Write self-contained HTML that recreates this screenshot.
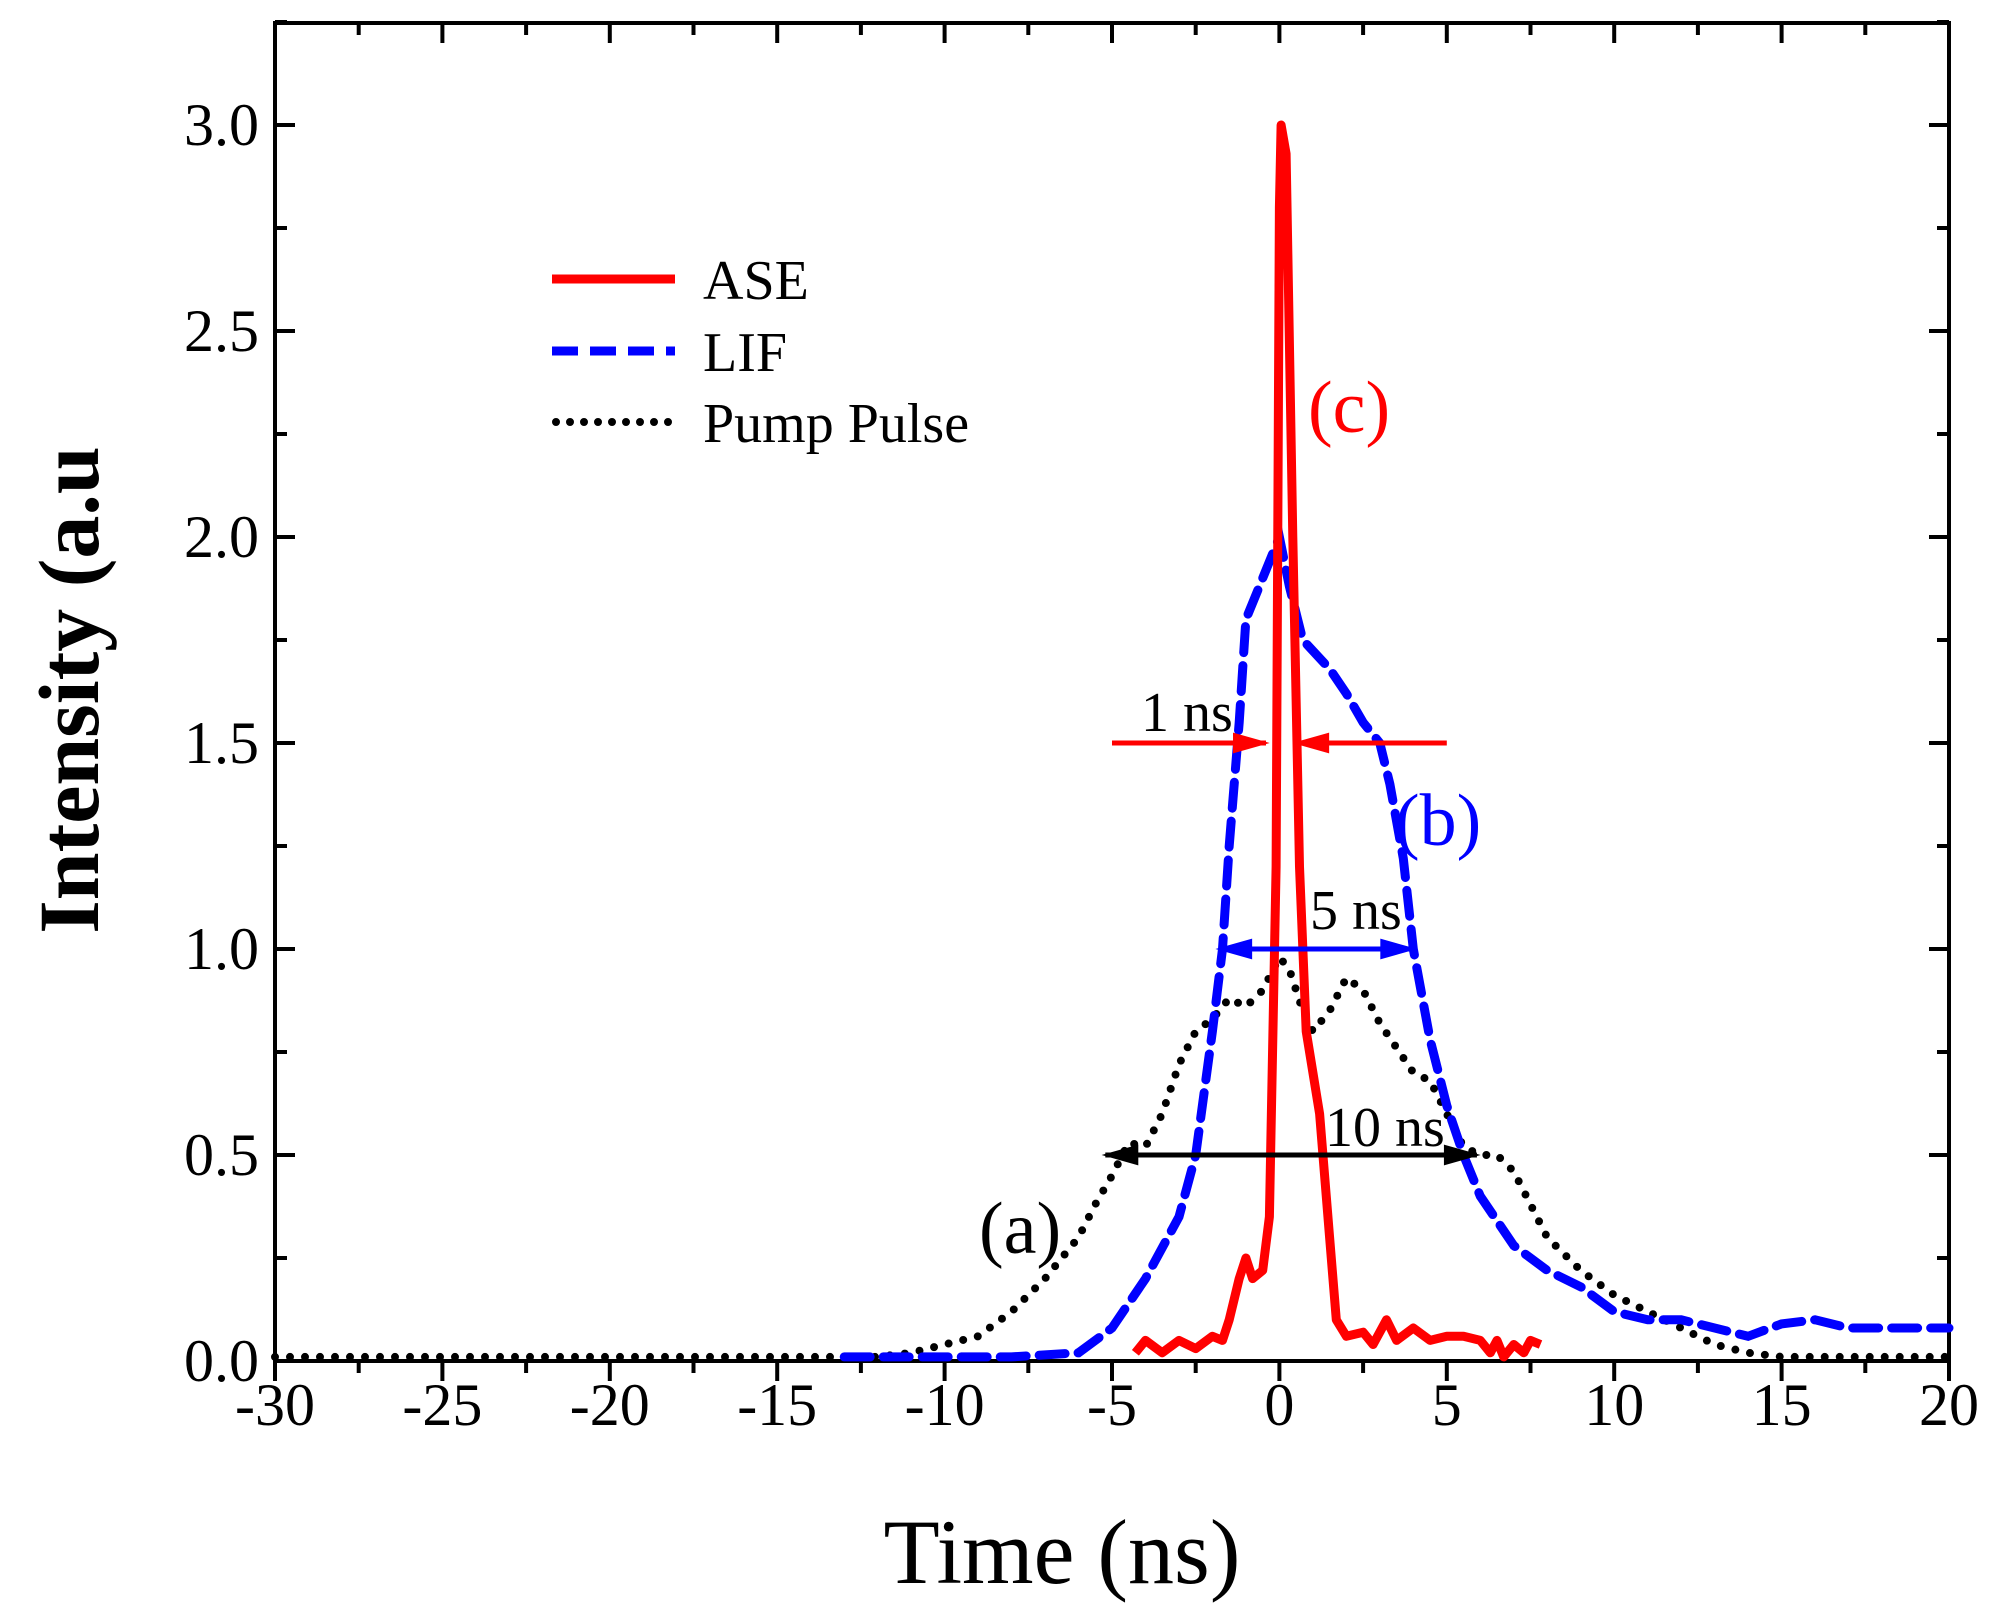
<!DOCTYPE html>
<html><head><meta charset="utf-8"><style>
html,body{margin:0;padding:0;background:#fff;}
svg{display:block;font-family:"Liberation Serif",serif;}
</style></head><body>
<svg id="chart" width="2004" height="1620" viewBox="0 0 2004 1620" xmlns="http://www.w3.org/2000/svg">
<g id="axes"></g>
<g id="series"></g>
<g id="annot"></g>
<text x="1062" y="1583" font-size="92" text-anchor="middle">Time (ns)</text>
<text x="0" y="0" font-size="86" font-weight="bold" text-anchor="middle" transform="translate(98,690) rotate(-90)">Intensity (a.u</text>
<g>
<line x1="552" y1="279" x2="675" y2="279" stroke="#f00" stroke-width="9"/>
<text x="703" y="299" font-size="56">ASE</text>
<line x1="552" y1="351" x2="675" y2="351" stroke="#00f" stroke-width="9" stroke-dasharray="26,12"/>
<text x="703" y="371" font-size="56">LIF</text>
<line x1="556" y1="422" x2="675" y2="422" stroke="#000" stroke-width="8" stroke-linecap="round" stroke-dasharray="0,14"/>
<text x="703" y="442" font-size="56">Pump Pulse</text>
</g>
</svg>
<script>
const xTicks=[-30,-25,-20,-15,-10,-5,0,5,10,15,20];
const yTicks=[0.0,0.5,1.0,1.5,2.0,2.5,3.0];
const pumpT=[-30,-28,-26,-24,-22,-20,-18,-16,-14,-13,-12,-11,-10,-9,-8,-7,-6,-5.5,-5,-4.5,-4,-3.5,-3,-2.5,-2,-1.5,-1,-0.5,0,0.3,0.7,1,1.5,2,2.5,3,3.5,4,4.5,5,5.5,6,6.5,7,8,9,10,11,12,13,14,15,17,20];
const pumpV=[0.01,0.01,0.01,0.01,0.01,0.01,0.01,0.01,0.01,0.01,0.01,0.02,0.04,0.06,0.12,0.2,0.3,0.38,0.45,0.53,0.52,0.6,0.72,0.8,0.83,0.88,0.86,0.9,0.98,0.95,0.85,0.8,0.85,0.93,0.9,0.82,0.76,0.7,0.68,0.6,0.52,0.5,0.5,0.46,0.3,0.22,0.16,0.12,0.08,0.04,0.02,0.01,0.01,0.01];
const lifT=[-13,-12,-11,-10,-8,-6,-5,-4,-3,-2.5,-2,-1.7,-1.5,-1.2,-1,-0.5,0,0.3,0.7,1.5,2,2.5,3,3.3,3.7,4,4.5,5,5.5,6,7,8,9,10,11,12,13,14,15,16,17,18,20];
const lifV=[0.01,0.01,0.01,0.01,0.01,0.02,0.08,0.2,0.35,0.5,0.8,1.0,1.25,1.55,1.8,1.9,2.0,1.88,1.75,1.68,1.62,1.55,1.5,1.4,1.22,1.0,0.78,0.62,0.5,0.4,0.28,0.22,0.18,0.12,0.1,0.1,0.08,0.06,0.09,0.1,0.08,0.08,0.08];
const aseT=[-4.3,-4,-3.5,-3,-2.5,-2,-1.7,-1.5,-1.2,-1,-0.8,-0.5,-0.3,-0.1,0,0.05,0.2,0.4,0.6,0.8,1.2,1.5,1.7,2,2.5,2.8,3.2,3.5,4,4.5,5,5.5,6,6.3,6.5,6.7,7,7.3,7.5,7.8];
const aseV=[0.02,0.05,0.02,0.05,0.03,0.06,0.05,0.1,0.2,0.25,0.2,0.22,0.35,1.2,2.8,3.0,2.93,2.0,1.2,0.8,0.6,0.3,0.1,0.06,0.07,0.04,0.1,0.05,0.08,0.05,0.06,0.06,0.05,0.02,0.05,0.01,0.04,0.02,0.05,0.04];
const NS='http://www.w3.org/2000/svg';
const L=275,R=1949,B=1361,T=23;
function xs(t){return L+(t+30)*(R-L)/50;}
function ys(v){return B-v*(B-125)/3;}
function mk(tag,attrs,parent){const e=document.createElementNS(NS,tag);for(const k in attrs)e.setAttribute(k,attrs[k]);parent.appendChild(e);return e;}
const ax=document.getElementById('axes');
const frame=mk('rect',{x:L,y:T,width:R-L,height:B-T,fill:'none',stroke:'#000','stroke-width':4},ax);


for(let t=-30;t<=20;t+=2.5){
  const major=(t%5===0);
  const x=xs(t);
  const tk=mk('line',{x1:x,y1:B,x2:x,y2:B+(major?20:12),stroke:'#000','stroke-width':4},ax);
  
  
  const tt=mk('line',{x1:x,y1:T,x2:x,y2:T+(major?20:12),stroke:'#000','stroke-width':4},ax);
  
  
}
xTicks.forEach(t=>{
  const tx=mk('text',{x:xs(t),y:B+64,'font-size':60,'text-anchor':'middle'},ax);
  tx.textContent=t;
  
  
});
for(let v=0;v<=3.26;v+=0.25){
  const major=(Math.abs(v*2-Math.round(v*2))<1e-6);
  const y=ys(v);
  const a=mk('line',{x1:L,y1:y,x2:L+(major?20:12),y2:y,stroke:'#000','stroke-width':4},ax);
  
  
  const b=mk('line',{x1:R,y1:y,x2:R-(major?20:12),y2:y,stroke:'#000','stroke-width':4},ax);
  
  
}
yTicks.forEach(v=>{
  const ty=mk('text',{x:L-16,y:ys(v)+20,'font-size':60,'text-anchor':'end'},ax);
  ty.textContent=v.toFixed(1);
  
  
});
const sr=document.getElementById('series');
function path(ts,vs){return ts.map((t,i)=>(i?'L':'M')+xs(t).toFixed(1)+','+ys(vs[i]).toFixed(1)).join(' ');}
const p1=mk('path',{d:path(pumpT,pumpV),fill:'none',stroke:'#000','stroke-width':8,'stroke-linecap':'round','stroke-dasharray':'0,15'},sr);


const p2=mk('path',{d:path(lifT,lifV),fill:'none',stroke:'#00f','stroke-width':9,'stroke-dasharray':'26,13','stroke-linecap':'round'},sr);


const p3=mk('path',{d:path(aseT,aseV),fill:'none',stroke:'#f00','stroke-width':9,'stroke-linejoin':'round'},sr);


const an=document.getElementById('annot');
function arrowHead(x,y,dir,col){return mk('path',{d:`M${x},${y} L${x-dir*32},${y-9} L${x-dir*32},${y+9} Z`,fill:col,stroke:col,'stroke-width':2},an);}
const r1=mk('line',{x1:xs(-5),y1:ys(1.5),x2:xs(-0.4),y2:ys(1.5),stroke:'#f00','stroke-width':5},an);


const h1=arrowHead(xs(-0.4),ys(1.5),1,'#f00');


const r2=mk('line',{x1:xs(5),y1:ys(1.5),x2:xs(0.5),y2:ys(1.5),stroke:'#f00','stroke-width':5},an);


const h2=arrowHead(xs(0.5),ys(1.5),-1,'#f00');


const bl=mk('line',{x1:xs(-1.8),y1:ys(1.0),x2:xs(4),y2:ys(1.0),stroke:'#00f','stroke-width':5},an);


const h3=arrowHead(xs(-1.8),ys(1.0),-1,'#00f');


const h4=arrowHead(xs(4),ys(1.0),1,'#00f');


const kl=mk('line',{x1:xs(-5.2),y1:ys(0.5),x2:xs(5.9),y2:ys(0.5),stroke:'#000','stroke-width':5},an);


const h5=arrowHead(xs(-5.2),ys(0.5),-1,'#000');


const h6=arrowHead(xs(5.9),ys(0.5),1,'#000');


function label(txt,x,y,size,col,name){const e=mk('text',{x:x,y:y,'font-size':size,fill:col},an);e.textContent=txt;}
label('(c)',1308,432,74,'#f00','label-c');
label('(b)',1395,845,74,'#00f','label-b');
label('(a)',979,1253,74,'#000','label-a');
label('1 ns',1141,731,56,'#000','label-1ns');
label('5 ns',1310,929,56,'#000','label-5ns');
label('10 ns',1325,1146,56,'#000','label-10ns');
</script>
</body></html>
